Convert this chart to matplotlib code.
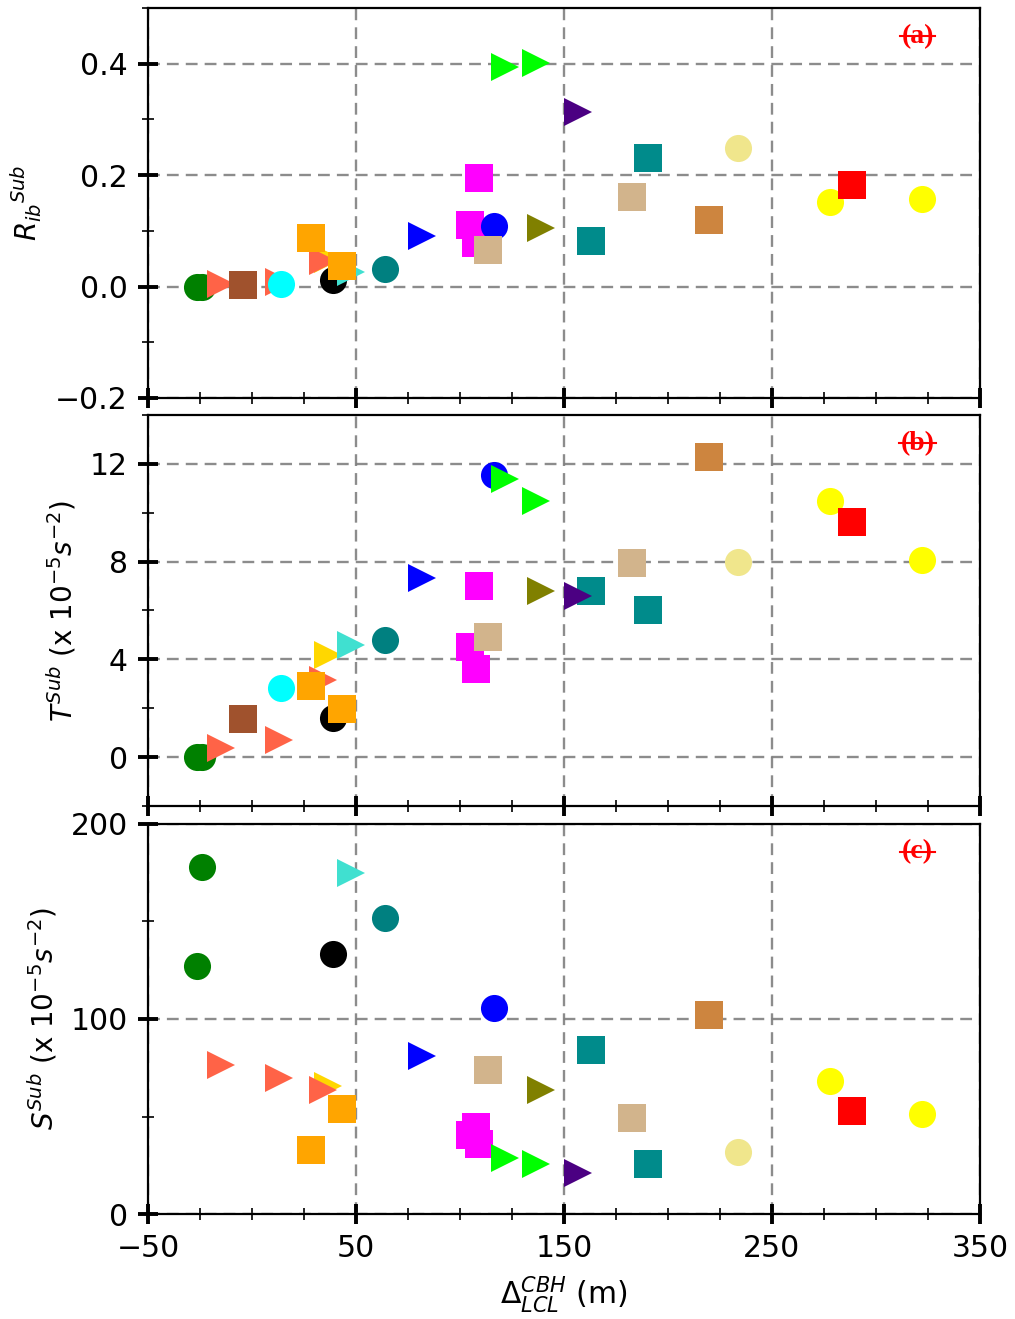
import numpy as np
import matplotlib
matplotlib.use('Agg')
import matplotlib.pyplot as plt
from matplotlib.ticker import MultipleLocator

# one entry per case, same order in every list
dz = [-26.4, -24.0, -15.1, -4.3, 13.0, 13.8, 36.4, 34.2, 38.8, 47.8,
      28.2, 43.1, 64.1, 81.9, 109.1, 104.6, 107.7, 116.5, 113.6, 121.6,
      136.7, 138.8, 162.8, 156.9, 182.5, 190.5, 219.7, 233.5, 277.9, 288.6,
      322.0]
rib = [0.0, 0.0, 0.004, 0.003, 0.008, 0.005, 0.05, 0.045, 0.011, 0.026,
       0.087, 0.036, 0.032, 0.09, 0.195, 0.111, 0.079, 0.108, 0.066, 0.395,
       0.402, 0.106, 0.081, 0.313, 0.16, 0.231, 0.12, 0.249, 0.152, 0.182,
       0.157]
tsub = [0.0, 0.0, 0.37, 1.58, 0.71, 2.81, 4.19, 3.15, 1.6, 4.6,
        2.9, 1.97, 4.81, 7.33, 7.02, 4.52, 3.6, 11.56, 4.9, 11.39,
        10.48, 6.78, 6.78, 6.6, 7.95, 6.0, 12.3, 7.97, 10.49, 9.64,
        8.07]
ssub = [127, 178, 76.4, np.nan, 69.7, np.nan, 65.8, 63.6, 133.3, 175,
        33.0, 53.8, 152, 81.2, 35.7, 40.5, 44.8, 105.8, 73.7, 28.5,
        25.8, 63.4, 84.1, 20.9, 49.2, 25.8, 102, 31.8, 68.4, 52.8,
        51.3]
colors = ['green', 'green', 'tomato', 'sienna', 'tomato', 'cyan', 'gold',
          'tomato', 'black', 'turquoise', 'orange', 'orange', 'teal', 'blue',
          'magenta', 'magenta', 'magenta', 'blue', 'tan', 'lime', 'lime',
          'olive', 'darkcyan', 'indigo', 'tan', 'darkcyan', 'peru', 'khaki',
          'yellow', 'red', 'yellow']
markers = ['o', 'o', '>', 's', '>', 'o', '>', '>', 'o', '>',
           's', 's', 'o', '>', 's', 's', 's', 'o', 's', '>',
           '>', '>', 's', '>', 's', 's', 's', 'o', 'o', 's',
           'o']

panels = [(rib, (-0.2, 0.5), [-0.2, 0.0, 0.2, 0.4], 0.1, '{:.1f}',
           r'${R_{ib}}^{Sub}$', '(a)'),
          (tsub, (-2, 14), [0, 4, 8, 12], 2, '{:.0f}',
           r'$T^{Sub}$ (x $10^{-5}s^{-2}$)', '(b)'),
          (ssub, (0, 200), [0, 100, 200], 50, '{:.0f}',
           r'$S^{Sub}$ (x $10^{-5}s^{-2}$)', '(c)')]

fig = plt.figure(figsize=(10.15, 13.19), dpi=100)
boxes = [(0.1458, 0.6983, 0.8197, 0.2956),
         (0.1458, 0.3889, 0.8197, 0.2965),
         (0.1458, 0.0796, 0.8197, 0.2957)]

axes = []
tags = []
for box, (vals, ylim, yt, yminor, fmt, ylab, tag) in zip(boxes, panels):
    ax = fig.add_axes(box)
    for x, y, c, m in zip(dz, vals, colors, markers):
        ms = 20 if m == '>' else 19.5
        ax.plot(x, y, marker=m, color=c, ms=ms, mew=0, linestyle='none')
    ax.set_xlim(-50, 350)
    ax.set_ylim(*ylim)
    ax.set_xticks([-50, 50, 150, 250, 350])
    ax.xaxis.set_minor_locator(MultipleLocator(25))
    ax.set_yticks(yt)
    ax.set_yticklabels([fmt.format(v).replace('-', '\u2212') for v in yt])
    ax.yaxis.set_minor_locator(MultipleLocator(yminor))
    ax.grid(True, which='major', color='gray', alpha=0.9,
            linestyle=(0, (5, 3)), linewidth=1.7)
    ax.set_axisbelow(True)
    ax.tick_params(which='major', direction='inout', length=15, width=2.8,
                   labelsize=21.5, pad=7)
    ax.tick_params(which='minor', direction='inout', length=8, width=1.2)
    for sp in ax.spines.values():
        sp.set_linewidth(1.6)
    ax.set_ylabel(ylab, fontsize=20, labelpad=8)
    t = ax.text(0.925, 0.928, tag, transform=ax.transAxes, color='red',
                fontsize=20, fontweight='bold', family='Liberation Serif',
                ha='center', va='center')
    axes.append(ax)
    tags.append((ax, t))

for ax in axes[:-1]:
    ax.tick_params(labelbottom=False)
axes[-1].set_xticklabels(['\u221250', '50', '150', '250', '350'])
axes[-1].set_xlabel(r'$\Delta_{LCL}^{CBH}$ (m)', fontsize=21.5, labelpad=8)

# strike line through each panel tag
fig.canvas.draw()
for ax, t in tags:
    bb = t.get_window_extent().transformed(ax.transAxes.inverted())
    ym = 0.5 * (bb.y0 + bb.y1)
    ax.plot([bb.x0 - 0.002, bb.x1 + 0.002], [ym, ym], color='red', lw=1.5,
            transform=ax.transAxes, clip_on=False)

fig.savefig('out.png', dpi=100)
